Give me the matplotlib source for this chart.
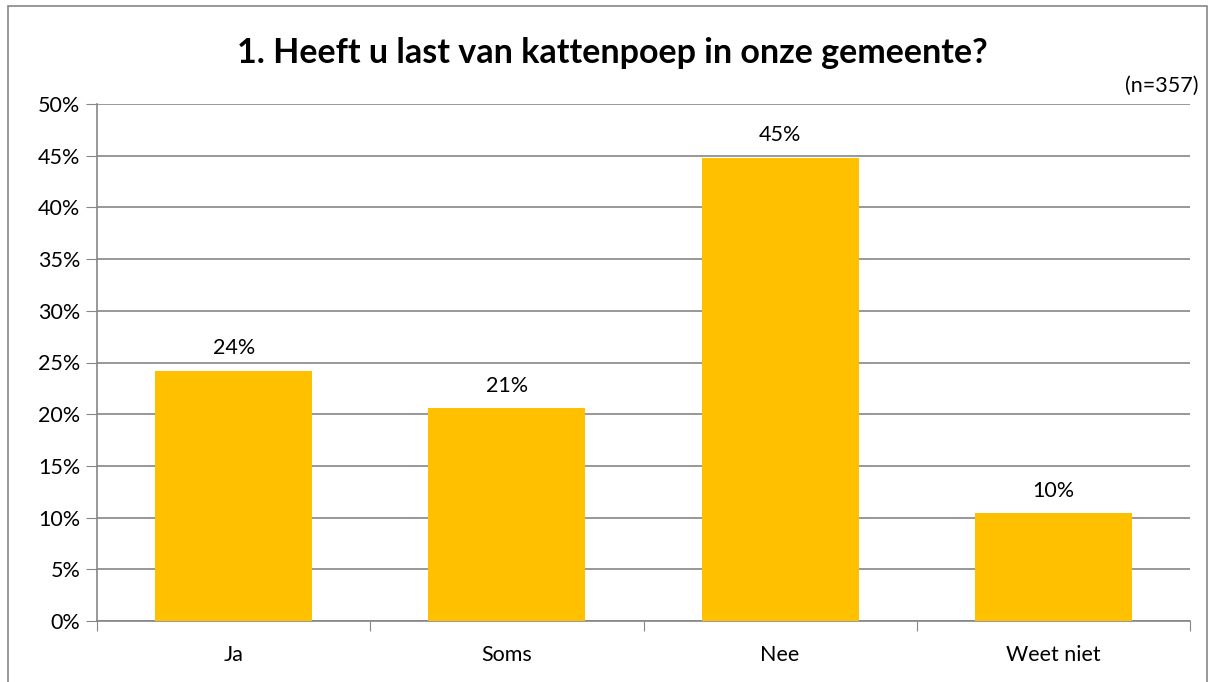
import matplotlib
matplotlib.use("Agg")
import matplotlib.pyplot as plt
from matplotlib.patches import Rectangle

plt.rcParams['font.family'] = ['Lato', 'DejaVu Sans']

categories = ['Ja', 'Soms', 'Nee', 'Weet niet']
values = [24.2, 20.6, 44.8, 10.4]
labels = ['24%', '21%', '45%', '10%']
yticks = [0, 5, 10, 15, 20, 25, 30, 35, 40, 45, 50]

grid_col = '#868686'
fs = 15.5

fig = plt.figure(figsize=(12.14, 6.82), dpi=100)
ax = fig.add_axes([97 / 1214, 1 - 621 / 682, (1190 - 97) / 1214, (621 - 104) / 682])

# outer chart border
fig.patches.append(Rectangle((8 / 1214, -0.01), 1199 / 1214, 1 - 6 / 682 + 0.01,
                             transform=fig.transFigure, fill=False,
                             edgecolor='#868686', linewidth=1.2))

x = range(len(categories))
ax.bar(x, values, width=0.575, color='#FFC000', zorder=3)
for xi, v, lab in zip(x, values, labels):
    ax.text(xi, v + 1.2, lab, ha='center', va='bottom', fontsize=fs, color='#000000')

ax.set_xlim(-0.5, 3.5)
ax.set_ylim(0, 50)
ax.set_yticks(yticks)
ax.set_yticklabels([f'{t}%' for t in yticks], fontsize=fs)
ax.set_xticks([-0.5, 0.5, 1.5, 2.5, 3.5], minor=False)
ax.set_xticklabels([])
ax.set_xticks(list(x), minor=True)
ax.set_xticklabels(categories, minor=True, fontsize=fs)
ax.tick_params(axis='x', which='minor', length=0, pad=17)
ax.tick_params(axis='x', which='major', length=7, color=grid_col, direction='out')
ax.tick_params(axis='y', length=8, color=grid_col, direction='out', pad=4)
ax.yaxis.grid(True, color=grid_col, linewidth=1.2, zorder=0)
ax.set_axisbelow(True)
for s in ['top', 'right']:
    ax.spines[s].set_visible(False)
for s in ['left', 'bottom']:
    ax.spines[s].set_color(grid_col)
    ax.spines[s].set_linewidth(1.2)

fig.text(612 / 1214, 1 - 53 / 682, '1. Heeft u last van kattenpoep in onze gemeente?',
         ha='center', va='center', fontsize=24.5, fontweight='bold')
fig.text(1199 / 1214, 1 - 86 / 682, '(n=357)', ha='right', va='center', fontsize=fs)

fig.savefig('out.png', dpi=100)
